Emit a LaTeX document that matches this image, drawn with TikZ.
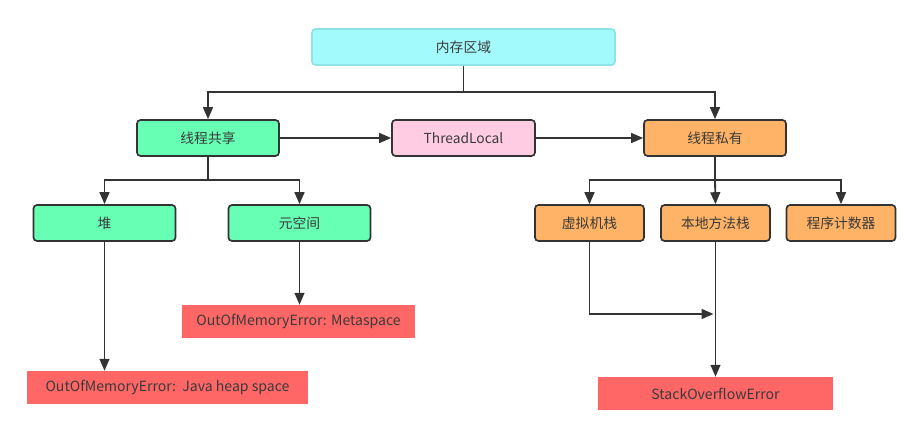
\documentclass[tikz,border=0pt]{standalone}
\usepackage{fontspec}
\setmainfont{Noto Sans CJK SC}
\usetikzlibrary{arrows.meta}
\definecolor{cyanbox}{HTML}{A3FAFC}
\definecolor{cyanline}{HTML}{8FE3E8}
\definecolor{greenbox}{HTML}{66FFB3}
\definecolor{pinkbox}{HTML}{FFCCE3}
\definecolor{orangebox}{HTML}{FFB366}
\definecolor{redbox}{HTML}{FF6666}
\definecolor{linec}{HTML}{333333}
\definecolor{textc}{HTML}{3A3A3A}
\tikzset{
  box/.style={draw=linec, line width=1.2pt, rounded corners=2.5pt, minimum height=36*0.025cm, inner sep=0pt, text=textc, font=\fontsize{9.8}{11}\selectfont},
  topbox/.style={box, draw=cyanline, fill=cyanbox, minimum width=303*0.025cm},
  gbox/.style={box, fill=greenbox, minimum width=142*0.025cm},
  pbox/.style={box, fill=pinkbox, minimum width=143*0.025cm},
  obox/.style={box, fill=orangebox, minimum width=142*0.025cm},
  sbox/.style={box, fill=orangebox, minimum width=109*0.025cm},
  errbox/.style={fill=redbox, draw=none, minimum height=33*0.025cm, inner sep=0pt, text=textc, font=\fontsize{10}{12}\selectfont},
  conn/.style={draw=linec, line width=1.3pt},
  arr/.style={conn, -{Triangle[length=8.5pt,width=7pt]}}
}
\begin{document}
\begin{tikzpicture}[x=0.025cm, y=-0.025cm]
\useasboundingbox (0,0) rectangle (923,427);
\fill[white] (0,0) rectangle (923,427);
\node[topbox] (mem) at (463.5,47) {内存区域};
\node[gbox] (share) at (208,138) {线程共享};
\node[pbox] (tl) at (463.5,138) {ThreadLocal};
\node[obox] (priv) at (715,138) {线程私有};
\node[gbox] (heap) at (104.5,223) {堆};
\node[gbox] (meta) at (299.5,223) {元空间};
\node[sbox] (vms) at (589.5,223) {虚拟机栈};
\node[sbox] (nms) at (715.5,223) {本地方法栈};
\node[sbox] (pc) at (841,223) {程序计数器};
\node[errbox, minimum width=233*0.025cm] (oommeta) at (298.5,321.5) {OutOfMemoryError: Metaspace};
\node[errbox, minimum width=281*0.025cm] (oomheap) at (167.5,387.5) {OutOfMemoryError:\ \ Java heap space};
\node[errbox, minimum width=235*0.025cm] (soe) at (715.5,393.5) {StackOverflowError};
\coordinate (j1) at (463.5,92);
\coordinate (j2) at (208,180);
\coordinate (j3) at (715,180);
\draw[conn] (mem.south) -- (j1);
\draw[arr] (j1) -| (share.north);
\draw[arr] (j1) -| (priv.north);
\draw[arr] (share.east) -- (tl.west);
\draw[arr] (tl.east) -- (priv.west);
\draw[conn] (share.south) -- (j2);
\draw[arr] (j2) -| (heap.north);
\draw[arr] (j2) -| (meta.north);
\draw[conn] (priv.south) -- (j3);
\draw[arr] (j3) -| (vms.north);
\draw[arr] (j3) -| (pc.north);
\draw[arr] (j3) -- (nms.north);
\draw[arr] (heap.south) -- (heap.south |- oomheap.north);
\draw[arr] (meta.south) -- (meta.south |- oommeta.north);
\draw[arr] (nms.south) -- (nms.south |- soe.north);
\coordinate (m) at (713.5,314);
\draw[arr] (vms.south) |- (m);
\end{tikzpicture}
\end{document}
